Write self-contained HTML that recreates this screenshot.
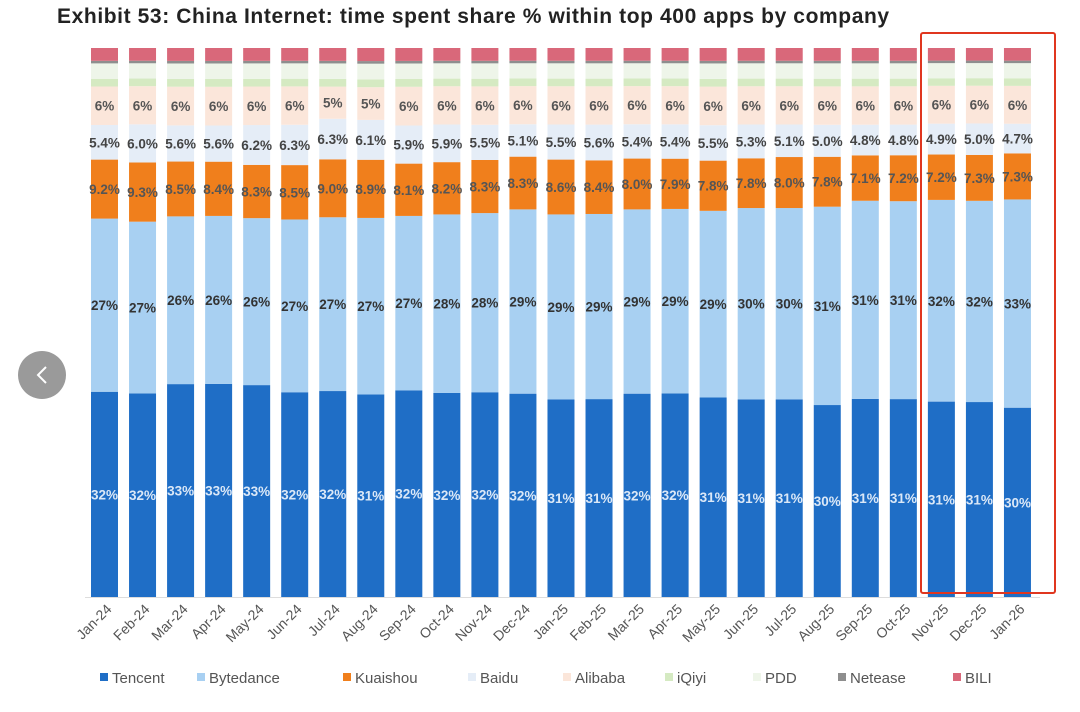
<!DOCTYPE html>
<html><head><meta charset="utf-8">
<style>
body{margin:0;width:1080px;height:712px;background:#fff;overflow:hidden;font-family:"Liberation Sans",sans-serif;}
#title{position:absolute;left:57px;top:5px;font-size:21px;font-weight:bold;color:#222;letter-spacing:0.6px;white-space:nowrap}
svg{position:absolute;left:0;top:0}
</style></head><body>
<div id="title">Exhibit 53: China Internet: time spent share % within top 400 apps by company</div>
<svg id="chart" width="1080" height="712"></svg>
<script>
const categories=["Jan-24","Feb-24","Mar-24","Apr-24","May-24","Jun-24","Jul-24","Aug-24","Sep-24","Oct-24","Nov-24","Dec-24","Jan-25","Feb-25","Mar-25","Apr-25","May-25","Jun-25","Jul-25","Aug-25","Sep-25","Oct-25","Nov-25","Dec-25","Jan-26"];
const tencent=[32,32,33,33,33,32,32,31,32,32,32,32,31,31,32,32,31,31,31,30,31,31,31,31,30];
const bytedance=[27,27,26,26,26,27,27,27,27,28,28,29,29,29,29,29,29,30,30,31,31,31,32,32,33];
const kuaishou=[9.2,9.3,8.5,8.4,8.3,8.5,9.0,8.9,8.1,8.2,8.3,8.3,8.6,8.4,8.0,7.9,7.8,7.8,8.0,7.8,7.1,7.2,7.2,7.3,7.3];
const baidu=[5.4,6.0,5.6,5.6,6.2,6.3,6.3,6.1,5.9,5.9,5.5,5.1,5.5,5.6,5.4,5.4,5.5,5.3,5.1,5.0,4.8,4.8,4.9,5.0,4.7];
const alibaba=[6,6,6,6,6,6,5,5,6,6,6,6,6,6,6,6,6,6,6,6,6,6,6,6,6];
const iqiyi=[1.2,1.2,1.2,1.2,1.2,1.2,1.2,1.2,1.2,1.2,1.2,1.2,1.2,1.2,1.2,1.2,1.2,1.2,1.2,1.2,1.2,1.2,1.2,1.2,1.2];
const pdd=[2.4,2.4,2.4,2.4,2.4,2.4,2.4,2.4,2.4,2.4,2.4,2.4,2.4,2.4,2.4,2.4,2.4,2.4,2.4,2.4,2.4,2.4,2.4,2.4,2.4];
const netease=[0.4,0.4,0.4,0.4,0.4,0.4,0.4,0.4,0.4,0.4,0.4,0.4,0.4,0.4,0.4,0.4,0.4,0.4,0.4,0.4,0.4,0.4,0.4,0.4,0.4];
const bili=[2.0,2.0,2.0,2.0,2.0,2.0,2.0,2.0,2.0,2.0,2.0,2.0,2.0,2.0,2.0,2.0,2.0,2.0,2.0,2.0,2.0,2.0,2.0,2.0,2.0];
const seriesNames=["Tencent","Bytedance","Kuaishou","Baidu","Alibaba","iQiyi","PDD","Netease","BILI"];

const svg=document.getElementById('chart');
const NS='http://www.w3.org/2000/svg';
const series=[tencent,bytedance,kuaishou,baidu,alibaba,iqiyi,pdd,netease,bili];
const colors=["#1f6ec6","#a8d0f2","#f07f1c","#e5edf7","#fbe6da","#d5eac2","#eef5e9","#8e8e8e","#d9687a"];
const labelFmt=[v=>Math.round(v)+"%",v=>Math.round(v)+"%",v=>v.toFixed(1)+"%",v=>v.toFixed(1)+"%",v=>Math.round(v)+"%",null,null,null,null];
const labelCol=["#dbe8f7","#333","#555","#444","#555"];
const x0=104.5,pitch=38.04,bw=27,yBot=597,yTop=48;
function xC(i){return x0+i*pitch;}
function mk(tag,attrs){const e=document.createElementNS(NS,tag);for(const k in attrs)e.setAttribute(k,attrs[k]);svg.appendChild(e);return e;}
categories.forEach((c,i)=>{
  let total=0;series.forEach(s=>total+=s[i]);
  const k=(yBot-yTop)/total;
  let y=yBot;
  series.forEach((s,j)=>{
    const h=s[i]*k;
    const r=mk('rect',{x:xC(i)-bw/2,y:y-h,width:bw,height:h,fill:colors[j]});
    
    
    if(labelFmt[j]){
      const t=mk('text',{x:xC(i),y:y-h/2+5,'text-anchor':'middle','font-size':'13.5','font-weight':'bold',fill:labelCol[j],'font-family':'Liberation Sans, sans-serif'});
      t.textContent=labelFmt[j](s[i]);
      
      
    }
    y-=h;
  });
  const lt=mk('text',{x:xC(i)+8,y:610,'text-anchor':'end','font-size':'14',fill:'#555',transform:`rotate(-45 ${xC(i)+8} 610)`});
  lt.textContent=c;
  
  
});
mk('line',{x1:85,x2:1040,y1:597.5,y2:597.5,stroke:'#ddd'});
const legX=[100,197,343,468,563,665,753,838,953];
seriesNames.forEach((n,j)=>{
  const r=mk('rect',{x:legX[j],y:673,width:8,height:8,fill:colors[j]});
  
  
  const t=mk('text',{x:legX[j]+12,y:683,'font-size':'15',fill:'#555'});
  t.textContent=n;
  
  
});
const box=mk('rect',{x:921,y:33,width:134,height:560,fill:'none',stroke:'#e0361f','stroke-width':2,rx:2});


const c=mk('circle',{cx:42,cy:375,r:24,fill:'#9a9a9a'});


const p=mk('path',{d:'M46 367 L38 375 L46 383',stroke:'#fff','stroke-width':2,fill:'none'});


</script>
</body></html>
